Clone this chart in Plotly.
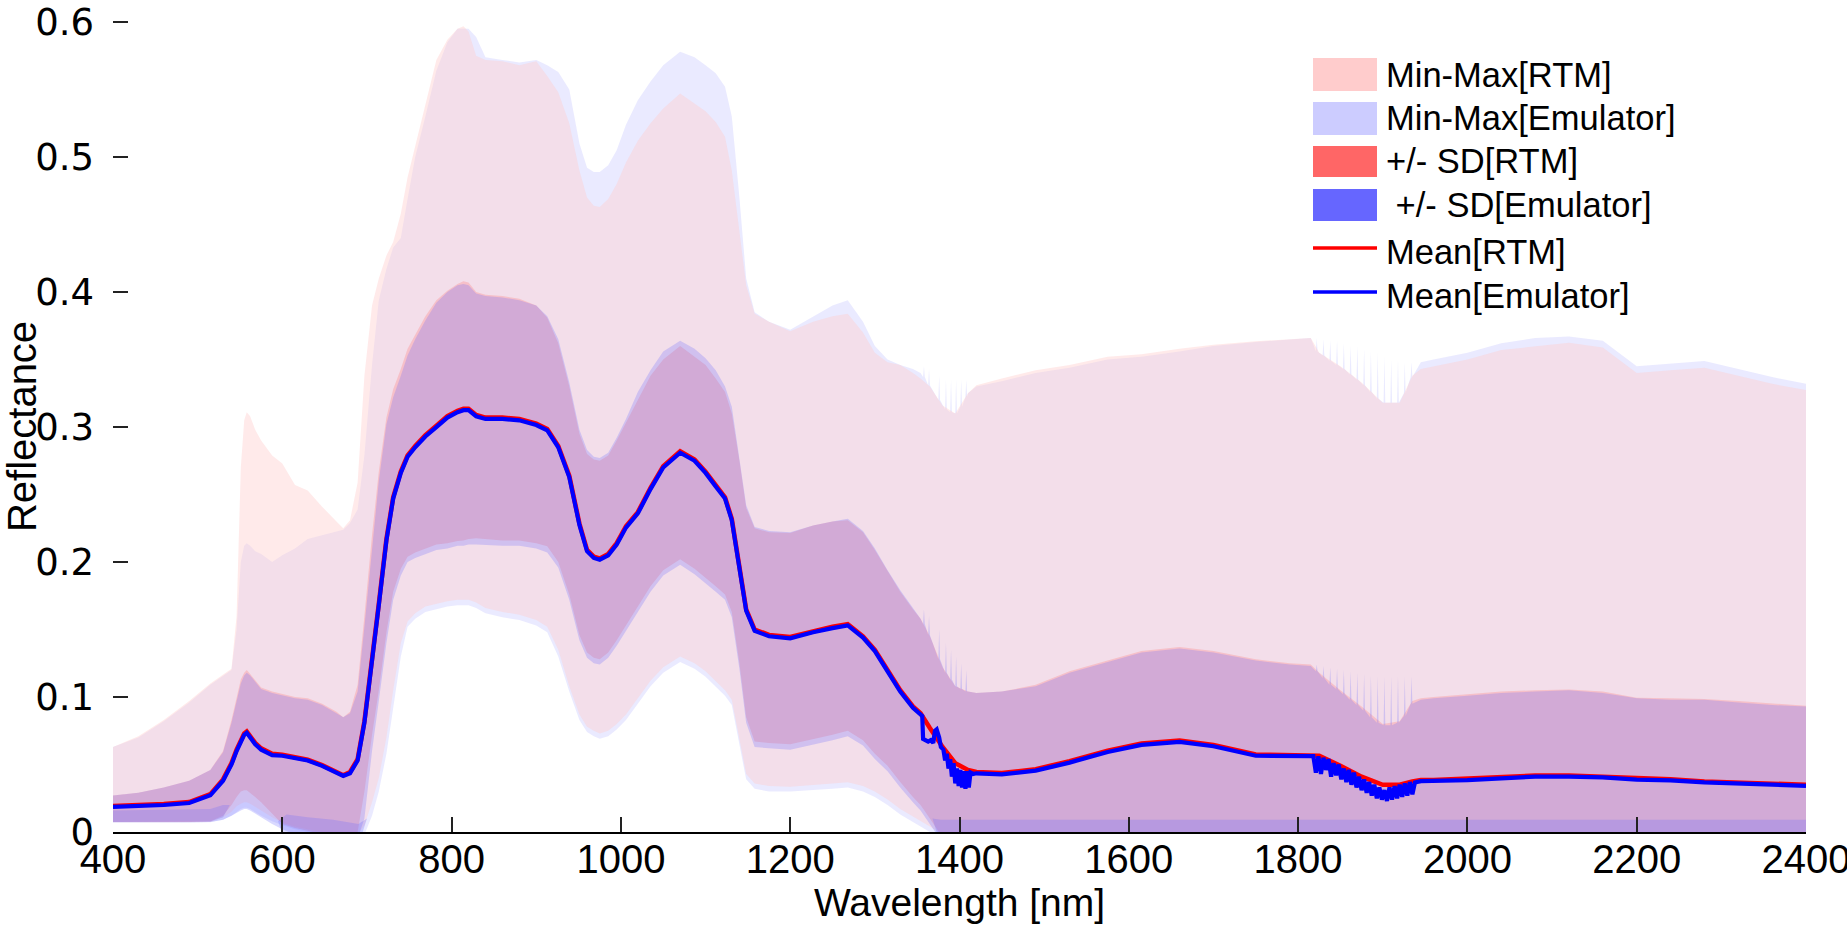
import plotly.graph_objects as go

# ---------------- data ----------------
wl = [400, 430, 460, 490, 515, 530, 540, 546, 551, 555,
      558, 562, 568, 575, 588, 600, 615, 630, 647, 664,
      672, 680, 689, 697, 706, 714, 723, 731, 740, 748,
      757, 769, 782, 795, 807, 814, 820, 829, 840, 860,
      880, 900, 913, 926, 939, 951, 960, 968, 975, 985,
      995, 1006, 1020, 1035, 1050, 1070, 1087, 1100, 1112, 1123,
      1131, 1140, 1148, 1158, 1175, 1200, 1227, 1250, 1268, 1286,
      1300, 1315, 1330, 1345, 1354, 1365, 1380, 1395, 1410, 1420,
      1450, 1490, 1530, 1575, 1615, 1660, 1700, 1750, 1790, 1815,
      1825, 1850, 1875, 1900, 1920, 1935, 1945, 1960, 2000, 2040,
      2080, 2120, 2160, 2200, 2240, 2280, 2320, 2360, 2400]

rtm_max = [.063, .071, .083, .097, .110, .117, .121, .160, .270, .305,
           .311, .308, .298, .290, .279, .273, .257, .253, .241, .230,
           .225, .231, .259, .338, .390, .410, .427, .437, .458, .485,
           .508, .540, .572, .587, .595, .597, .593, .575, .572, .571,
           .568, .571, .560, .548, .525, .490, .470, .464, .463, .469,
           .480, .496, .512, .525, .536, .547, .540, .534, .526, .515,
           .490, .445, .405, .384, .378, .371, .378, .382, .384, .370,
           .355, .348, .346, .340, .336, .330, .316, .310, .325, .331,
           .336, .342, .346, .352, .354, .358, .361, .3635, .365, .366,
           .355, .345, .333, .318, .318, .338, .343, .345, .350, .357,
           .360, .3625, .359, .340, .342, .344, .338, .332, .3275]

emu_max = [.063, .070, .082, .096, .109, .116, .120, .150, .200, .212,
           .214, .212, .208, .206, .200, .205, .210, .217, .220, .223,
           .224, .229, .239, .279, .346, .394, .417, .433, .440, .469,
           .500, .530, .564, .585, .595, .595, .595, .589, .574, .572,
           .570, .572, .568, .563, .550, .510, .492, .489, .489, .494,
           .505, .524, .542, .556, .568, .578, .574, .568, .562, .552,
           .530, .470, .410, .385, .378, .372, .382, .390, .394, .378,
           .360, .350, .346, .343, .340, .330, .316, .310, .325, .330,
           .334, .340, .344, .350, .352, .356, .360, .363, .365, .366,
           .355, .345, .333, .318, .318, .340, .348, .350, .355, .362,
           .366, .367, .364, .345, .347, .349, .343, .337, .332]

rtm_min = [.0072, .0072, .0072, .0072, .0075, .011, .015, .019, .021, .022,
           .022, .021, .019, .016, .011, .007, .004, .002, .000, .000,
           -.002, -.002, -.002, .005, .022, .040, .070, .105, .140, .156,
           .162, .167, .169, .171, .172, .172, .172, .170, .166, .163,
           .161, .157, .152, .135, .108, .087, .078, .075, .073, .075,
           .080, .087, .099, .112, .122, .130, .125, .119, .112, .105,
           .098, .070, .043, .036, .034, .0336, .035, .036, .0368, .034,
           .030, .024, .017, .011, .008, .004, -.002, -.002, -.002, -.002,
           -.002, -.002, -.002, -.002, -.002, -.002, -.002, -.002, -.002, -.002,
           -.002, -.002, -.002, -.002, -.002, -.002, -.002, -.002, -.002, -.002,
           -.002, -.002, -.002, -.002, -.002, -.002, -.002, -.002, -.002]

emu_min = [.0070, .0070, .0070, .0070, .0072, .009, .012, .015, .017, .018,
           .018, .017, .015, .012, .008, .005, .002, .000, -.002, -.002,
           -.003, -.003, -.003, -.002, .012, .030, .058, .092, .130, .152,
           .158, .163, .165, .167, .168, .168, .168, .166, .162, .159,
           .157, .153, .148, .130, .104, .083, .074, .071, .069, .071,
           .076, .083, .095, .108, .118, .126, .121, .115, .108, .101,
           .094, .066, .039, .032, .030, .030, .031, .032, .033, .030,
           .026, .020, .013, .007, .004, .000, -.003, -.003, -.003, -.003,
           -.003, -.003, -.003, -.003, -.003, -.003, -.003, -.003, -.003, -.003,
           -.003, -.003, -.003, -.003, -.003, -.003, -.003, -.003, -.003, -.003,
           -.003, -.003, -.003, -.003, -.003, -.003, -.003, -.003, -.003]

rtm_sd_hi = [.027, .029, .033, .038, .046, .060, .083, .100, .113, .118,
             .120, .117, .112, .107, .104, .102, .100, .099, .095, .089,
             .085, .089, .109, .160, .220, .267, .307, .328, .343, .358,
             .368, .382, .394, .401, .406, .408, .407, .400, .398, .397,
             .395, .390, .381, .362, .330, .295, .280, .276, .275, .279,
             .290, .303, .320, .338, .350, .360, .352, .346, .336, .326,
             .310, .275, .240, .225, .222, .2215, .227, .230, .231, .222,
             .209, .193, .178, .165, .158, .145, .122, .108, .104, .103,
             .104, .109, .119, .127, .134, .137, .134, .128, .125, .124,
             .118, .105, .093, .080, .082, .097, .099, .100, .102, .104,
             .105, .1055, .104, .0995, .099, .0985, .097, .095, .0935]

emu_sd_hi = [.027, .029, .033, .038, .046, .059, .081, .098, .110, .116,
             .118, .116, .111, .106, .103, .101, .099, .098, .094, .088,
             .085, .088, .104, .152, .212, .260, .302, .322, .338, .353,
             .365, .379, .392, .400, .405, .406, .405, .399, .397, .396,
             .394, .390, .382, .365, .333, .298, .283, .278, .277, .281,
             .292, .306, .326, .342, .356, .364, .358, .351, .342, .330,
             .315, .278, .242, .226, .223, .222, .227, .230, .232, .223,
             .210, .194, .179, .166, .158, .145, .122, .108, .104, .103,
             .104, .108, .118, .126, .133, .136, .133, .127, .124, .123,
             .117, .104, .092, .079, .081, .096, .098, .099, .101, .103,
             .104, .105, .103, .099, .098, .098, .096, .094, .093]

rtm_sd_lo = [.0075, .0075, .0075, .0075, .008, .012, .020, .026, .030, .031,
             .031, .029, .026, .022, .014, .006, .003, .001, -.002, -.004,
             -.005, -.005, .000, .030, .072, .105, .148, .178, .195, .204,
             .207, .210, .213, .214, .2156, .216, .217, .2176, .217, .216,
             .216, .214, .2116, .200, .176, .146, .133, .129, .128, .133,
             .142, .152, .167, .182, .194, .202, .195, .188, .182, .176,
             .163, .125, .085, .067, .066, .065, .069, .072, .075, .068,
             .058, .049, .037, .026, .020, .010, -.004, -.004, -.004, -.004,
             -.004, -.004, -.004, -.004, -.004, -.004, -.004, -.004, -.004, -.004,
             -.004, -.004, -.004, -.004, -.004, -.004, -.004, -.004, -.004, -.004,
             -.004, -.004, -.004, -.004, -.004, -.004, -.004, -.004, -.004]

emu_sd_lo = [.0072, .0072, .0072, .0072, .0075, .009, .012, .014, .016, .017,
             .017, .016, .014, .011, .006, .002, -.002, -.004, -.006, -.007,
             -.007, -.007, -.005, .010, .060, .097, .140, .172, .190, .200,
             .203, .206, .209, .210, .212, .212, .213, .213, .213, .212,
             .212, .210, .207, .196, .172, .142, .129, .125, .124, .129,
             .138, .148, .163, .178, .190, .198, .191, .184, .178, .172,
             .159, .121, .081, .063, .062, .061, .065, .068, .071, .064,
             .054, .045, .033, .022, .016, .006, -.008, -.010, -.010, -.010,
             -.010, -.010, -.010, -.010, -.010, -.010, -.010, -.010, -.010, -.010,
             -.010, -.010, -.010, -.010, -.010, -.010, -.010, -.010, -.010, -.010,
             -.010, -.010, -.010, -.010, -.010, -.010, -.010, -.010, -.010]

# darker strip along the bottom where the emulator SD patch is doubled
wl_floor = [400, 515, 530, 538, 595, 605, 630, 660, 690, 700,
            1368, 1378, 1420, 1800, 2400]
floor_lo = [.0074, .0077, .011, .020, .008, -.010, -.010, -.010, -.010, .010,
            .010, -.010, -.010, -.010, -.010]
floor_hi = [.016, .017, .020, .020, .008, .013, .011, .009, .006, .010,
            .010, .009, .009, .009, .009]

rtm_mean = [.0192, .0197, .0208, .0222, .028, .039, .051, .061, .068, .073,
            .0745, .071, .066, .062, .058, .0572, .055, .0535, .0495, .0445,
            .042, .0445, .054, .082, .126, .169, .217, .248, .267, .279,
            .286, .294, .301, .308, .312, .3135, .3135, .309, .307, .307,
            .306, .3025, .2985, .286, .264, .2285, .209, .204, .2027, .206,
            .214, .2265, .237, .255, .271, .282, .276, .267, .257, .248,
            .232, .197, .165, .150, .146, .1445, .149, .152, .154, .145,
            .135, .120, .105, .093, .088, .077, .063, .051, .046, .0445,
            .0437, .0465, .0525, .0603, .0655, .0678, .0645, .0575, .0572, .0572,
            .0565, .049, .041, .035, .035, .0375, .0385, .0385, .0395, .041,
            .0418, .0418, .041, .0395, .039, .0375, .0365, .0355, .035]

emu_mean = [.0186, .019, .020, .0215, .0272, .038, .050, .060, .067, .072,
            .0735, .070, .065, .061, .057, .0565, .0545, .053, .049, .044,
            .0415, .0435, .053, .081, .125, .168, .216, .247, .266, .278,
            .285, .293, .300, .307, .311, .3125, .3125, .308, .306, .306,
            .305, .3015, .2975, .285, .263, .2275, .208, .203, .2017, .205,
            .213, .2255, .236, .254, .270, .281, .275, .266, .256, .247,
            .231, .196, .164, .149, .145, .1435, .148, .151, .153, .144,
            .134, .119, .104, .092, .087, .076, .062, .050, .045, .0435,
            .0427, .0455, .0514, .0593, .0645, .0668, .0635, .0565, .0562, .0562,
            .0555, .048, .040, .034, .034, .0367, .0377, .0378, .0385, .0398,
            .041, .041, .0405, .0388, .0383, .0368, .0358, .0348, .0342]

# noisy stretches of the emulator mean (water absorption bands)
wl_noise_a = [1356, 1357, 1360, 1363, 1366, 1369, 1371, 1373, 1376, 1378,
              1381, 1383, 1385, 1387, 1389, 1391, 1393, 1395, 1397, 1399,
              1401, 1403, 1405, 1407, 1409, 1411, 1413, 1416]
emu_mean_noise_a = [.086, .069, .068, .067, .068, .066, .075, .076, .070, .063,
                    .061, .053, .058, .047, .054, .041, .051, .036, .047, .034,
                    .046, .033, .045, .032, .045, .033, .044, .043]

wl_noise_b = [1818, 1821, 1824, 1827, 1830, 1833, 1836, 1839, 1842, 1845,
              1848, 1851, 1854, 1857, 1860, 1863, 1866, 1869, 1872, 1875,
              1878, 1881, 1884, 1887, 1890, 1893, 1896, 1899, 1902, 1905,
              1908, 1911, 1914, 1917, 1920, 1923, 1926, 1929, 1932, 1935,
              1938]
emu_mean_noise_b = [.0562, .044, .056, .043, .055, .046, .054, .041, .051, .042,
                    .050, .039, .047, .037, .046, .035, .044, .033, .041, .031,
                    .039, .029, .037, .027, .035, .025, .033, .024, .031, .023,
                    .033, .024, .034, .025, .035, .026, .036, .027, .037, .028,
                    .0367]

# thin spikes on the emulator upper bounds in the same bands
spike_wl_a = [1358, 1364, 1376, 1384, 1390, 1396, 1402, 1408]
emu_max_env_a = [.337, .331, .320, .313, .311, .310, .315, .322]
emu_max_top_a = [.345, .343, .338, .335, .335, .335, .335, .335]
emu_sd_env_a = [.154, .146, .128, .118, .113, .108, .106, .104]
emu_sd_top_a = [.165, .160, .150, .140, .135, .130, .125, .120]

spike_wl_b = [1822, 1830, 1838, 1846, 1854, 1862, 1870, 1878, 1886, 1894,
              1902, 1910, 1918, 1926, 1934]
emu_max_env_b = [.356, .353, .349, .346, .343, .339, .335, .331, .326, .321,
                 .318, .318, .318, .325, .337]
emu_max_top_b = [.366, .365, .364, .364, .362, .360, .360, .358, .356, .355,
                 .352, .350, .350, .348, .348]
emu_sd_env_b = [.119, .114, .109, .106, .102, .098, .094, .090, .085, .081,
                .079, .079, .081, .086, .095]
emu_sd_top_b = [.124, .123, .122, .121, .120, .119, .118, .117, .116, .115,
                .115, .115, .115, .115, .115]

x_ticks = [400, 600, 800, 1000, 1200, 1400, 1600, 1800, 2000, 2200, 2400]
y_ticks = [0, 0.1, 0.2, 0.3, 0.4, 0.5, 0.6]
y_tick_text = ["0", "0.1", "0.2", "0.3", "0.4", "0.5", "0.6"]

legend_labels = ["Min-Max[RTM]", "Min-Max[Emulator]", "+/- SD[RTM]",
                 "\u00a0+/- SD[Emulator]", "Mean[RTM]", "Mean[Emulator]"]

# ---------------- styling ----------------
C_MM_RTM = "rgba(255,204,204,0.42)"
C_MM_EMU = "rgba(204,204,255,0.42)"
C_SD_RTM = "rgba(255,102,102,0.25)"
C_SD_EMU = "rgba(102,102,255,0.25)"
SW_MM_RTM = "#FFCCCC"
SW_MM_EMU = "#CCCCFF"
SW_SD_RTM = "#FF6666"
SW_SD_EMU = "#6666FF"


def splice(bx, by, sx, sy):
    lo, hi = sx[0], sx[-1]
    pts = [(x, y) for x, y in zip(bx, by) if not (lo <= x <= hi)]
    pts += list(zip(sx, sy))
    pts.sort()
    return [p[0] for p in pts], [p[1] for p in pts]


def spikes(centers, env, top):
    xs, ys = [], []
    for c, e, t in zip(centers, env, top):
        xs += [c - 1.0, c, c + 1.0]
        ys += [e, t, e]
    return xs, ys


def band(xh, hi, xl, lo, color):
    return go.Scatter(x=list(xh) + list(xl)[::-1], y=list(hi) + list(lo)[::-1],
                      fill="toself", fillcolor=color, mode="lines",
                      line=dict(width=0), hoverinfo="skip", showlegend=False)


ex, ey = splice(wl, emu_mean, wl_noise_a, emu_mean_noise_a)
ex, ey = splice(ex, ey, wl_noise_b, emu_mean_noise_b)

mx, my = splice(wl, emu_max, *spikes(spike_wl_a, emu_max_env_a, emu_max_top_a))
mx, my = splice(mx, my, *spikes(spike_wl_b, emu_max_env_b, emu_max_top_b))

sx, sy = splice(wl, emu_sd_hi, *spikes(spike_wl_a, emu_sd_env_a, emu_sd_top_a))
sx, sy = splice(sx, sy, *spikes(spike_wl_b, emu_sd_env_b, emu_sd_top_b))

fig = go.Figure()
fig.add_trace(band(mx, my, wl, emu_min, C_MM_EMU))
fig.add_trace(band(wl, rtm_max, wl, rtm_min, C_MM_RTM))
fig.add_trace(band(wl, rtm_sd_hi, wl, rtm_sd_lo, C_SD_RTM))
fig.add_trace(band(sx, sy, wl, emu_sd_lo, C_SD_EMU))
fig.add_trace(band(wl_floor, floor_hi, wl_floor, floor_lo, C_SD_EMU))
fig.add_trace(go.Scatter(x=wl, y=rtm_mean, mode="lines",
                         line=dict(color="#FF0000", width=4.5),
                         hoverinfo="skip", showlegend=False))
fig.add_trace(go.Scatter(x=ex, y=ey, mode="lines",
                         line=dict(color="#0000FF", width=4.2),
                         hoverinfo="skip", showlegend=False))

W, H = 1847, 926
L, R, T, B = 113, 41, 21, 94


def px(xp):
    return (xp - L) / (W - L - R)


def py(yp):
    return (H - B - yp) / (H - B - T)


shapes = []
annots = []
swatch_rows = [(58, 91, SW_MM_RTM), (102, 135, SW_MM_EMU),
               (146, 177, SW_SD_RTM), (189, 221, SW_SD_EMU)]
for (y0, y1, col) in swatch_rows:
    shapes.append(dict(type="rect", xref="paper", yref="paper",
                       x0=px(1313), x1=px(1377), y0=py(y1), y1=py(y0),
                       fillcolor=col, line=dict(width=0), layer="above"))
for (yl, col) in [(248, "#FF0000"), (292, "#0000FF")]:
    shapes.append(dict(type="line", xref="paper", yref="paper",
                       x0=px(1313), x1=px(1377), y0=py(yl), y1=py(yl),
                       line=dict(color=col, width=3.5), layer="above"))
text_y = [75, 118, 161, 205, 252, 296]
for lab, yt in zip(legend_labels, text_y):
    annots.append(dict(text=lab, xref="paper", yref="paper", x=px(1384), y=py(yt),
                       xanchor="left", yanchor="middle", showarrow=False,
                       font=dict(family="Liberation Sans, Arial, sans-serif",
                                 size=34.5, color="black")))

fig.update_layout(
    width=W, height=H,
    margin=dict(l=L, r=R, t=T, b=B, pad=0, autoexpand=False),
    paper_bgcolor="white", plot_bgcolor="white",
    showlegend=False,
    shapes=shapes, annotations=annots,
    xaxis=dict(range=[400, 2400], tickmode="array", tickvals=x_ticks,
               automargin=False, ticklabeloverflow="allow", ticklabelstandoff=-9,
               ticks="inside", ticklen=15, tickwidth=1.5, tickcolor="#222",
               showline=True, linecolor="black", linewidth=1.5,
               showgrid=False, zeroline=False,
               tickfont=dict(family="Liberation Sans, Arial, sans-serif",
                             size=40, color="black"),
               title=dict(text="Wavelength [nm]", standoff=2,
                          font=dict(family="Liberation Sans, Arial, sans-serif",
                                    size=39, color="black"))),
    yaxis=dict(range=[0, 0.6008], tickmode="array", tickvals=y_ticks, ticktext=y_tick_text,
               automargin=False, ticklabeloverflow="allow", ticklabelstandoff=18,
               ticks="inside", ticklen=15, tickwidth=1.5, tickcolor="#222",
               showline=False, showgrid=False, zeroline=False,
               tickfont=dict(family="DejaVu Sans, sans-serif", size=37, color="black"),
               title=dict(text="Reflectance", standoff=4,
                          font=dict(family="Liberation Sans, Arial, sans-serif",
                                    size=40, color="black"))),
)

fig.write_html("out.html", config={"displayModeBar": False})
